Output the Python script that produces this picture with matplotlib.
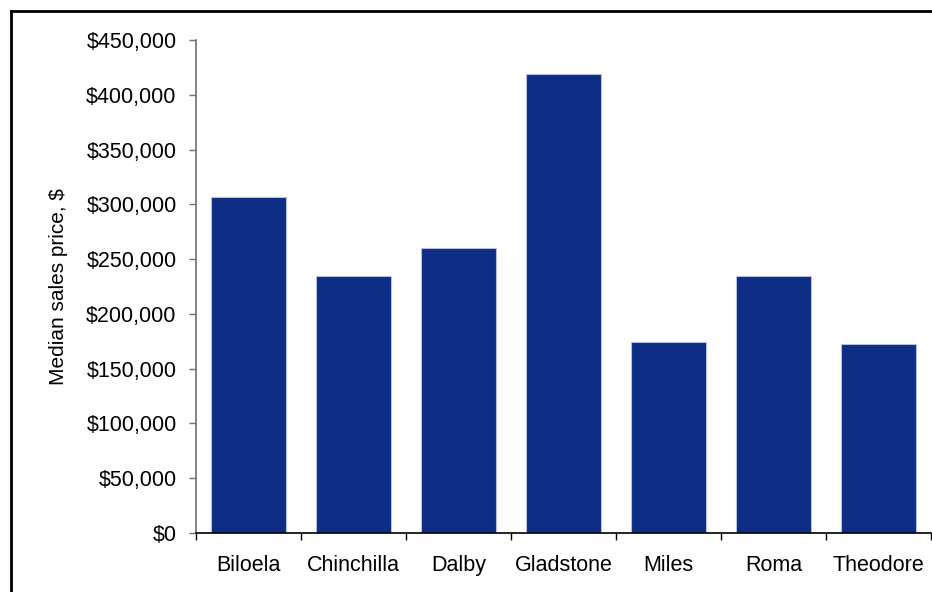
import matplotlib.pyplot as plt
import numpy as np
from matplotlib.lines import Line2D
from matplotlib.ticker import FuncFormatter, MultipleLocator

plt.rcParams['font.family'] = ['Liberation Sans', 'DejaVu Sans']

towns = ['Biloela', 'Chinchilla', 'Dalby', 'Gladstone', 'Miles', 'Roma', 'Theodore']
median_price = [307000, 235000, 260000, 419000, 174000, 235000, 172500]

font_size = 15.5

fig = plt.figure(figsize=(9.32, 5.92), dpi=100)
ax = fig.add_axes([0.2103, 0.0997, 0.7887, 0.8327])

index = np.arange(len(towns))
ax.bar(index, median_price, 0.72, color='#0c2d83', edgecolor='#b4bde6', linewidth=0.8)

ax.set_xlim(-0.5, len(towns) - 0.5)
ax.set_ylim(0, 450000)
ax.yaxis.set_major_locator(MultipleLocator(50000))
ax.yaxis.set_major_formatter(FuncFormatter(lambda v, p: f'${int(v):,}'))

# labels in the middle of each category, ticks on the boundaries
ax.set_xticks(index, towns)
ax.set_xticks(np.arange(len(towns) + 1) - 0.5, minor=True)
ax.tick_params(axis='x', which='major', length=0, pad=16, labelsize=font_size)
ax.tick_params(axis='x', which='minor', length=5, width=1, color='black')
ax.tick_params(axis='y', length=5, width=1, color='#707070', pad=9, labelsize=font_size)

ax.set_ylabel('Median sales price, $', fontsize=15, labelpad=13)

for s in ['top', 'right']:
    ax.spines[s].set_visible(False)
ax.spines['left'].set_color('#707070')
ax.spines['left'].set_linewidth(1.2)
ax.spines['bottom'].set_color('black')
ax.spines['bottom'].set_linewidth(1.2)

# outer frame (left and top edges visible)
fig.add_artist(Line2D([10.5 / 932, 10.5 / 932], [0, 1 - 10.5 / 592], color='black', lw=2))
fig.add_artist(Line2D([10.5 / 932, 1], [1 - 10.5 / 592, 1 - 10.5 / 592], color='black', lw=2))

plt.savefig('out.png', dpi=100)
